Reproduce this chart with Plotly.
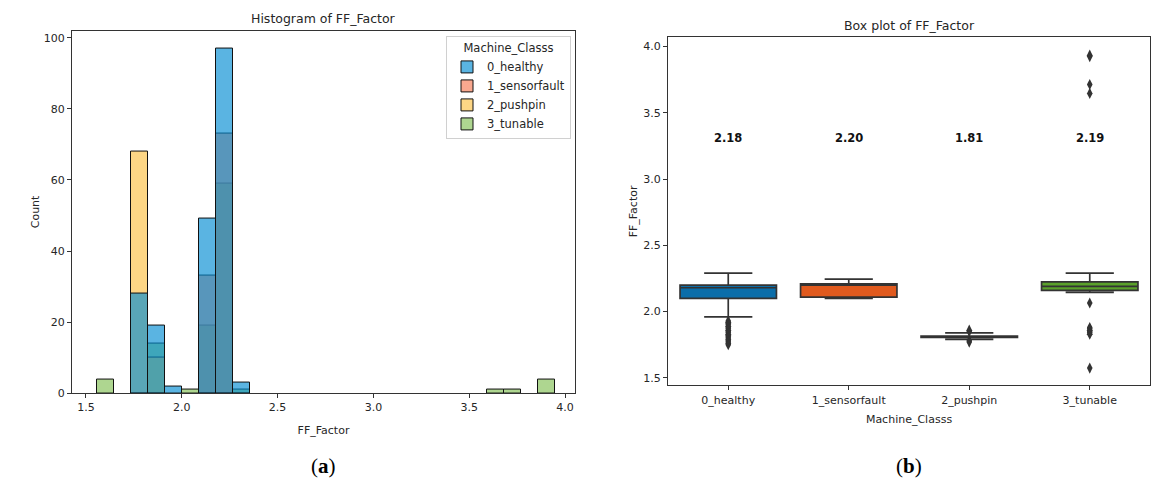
import plotly.graph_objects as go

# ---- data -------------------------------------------------------------
classes = ["0_healthy", "1_sensorfault", "2_pushpin", "3_tunable"]

# histogram of FF_Factor: 27 equal-width bins
bin_start = 1.556
bin_width = 0.0886
counts_healthy     = [0, 0, 28, 19, 2, 0, 49, 97, 3, 0, 0, 0, 0, 0, 0, 0, 0, 0, 0, 0, 0, 0, 0, 0, 0, 0, 0]
counts_sensorfault = [0, 0, 0, 0, 0, 0, 33, 73, 0, 0, 0, 0, 0, 0, 0, 0, 0, 0, 0, 0, 0, 0, 0, 0, 0, 0, 0]
counts_pushpin     = [0, 0, 68, 10, 0, 0, 0, 0, 0, 0, 0, 0, 0, 0, 0, 0, 0, 0, 0, 0, 0, 0, 0, 0, 0, 0, 0]
counts_tunable     = [4, 0, 0, 14, 0, 1, 19, 59, 1, 0, 0, 0, 0, 0, 0, 0, 0, 0, 0, 0, 0, 0, 0, 1, 1, 0, 4]

# box plot statistics per class
box_q1     = [2.10, 2.11, 1.805, 2.16]
box_median = [2.18, 2.20, 1.81, 2.19]
box_q3     = [2.20, 2.21, 1.815, 2.225]
box_lower  = [1.96, 2.10, 1.79, 2.145]
box_upper  = [2.29, 2.245, 1.84, 2.29]

outliers_healthy = [1.93, 1.92, 1.91, 1.90, 1.89, 1.88, 1.87, 1.86, 1.85, 1.84,
                    1.83, 1.82, 1.81, 1.80, 1.79, 1.78, 1.77, 1.76, 1.75]
outliers_sensorfault = []
outliers_pushpin = [1.86, 1.85, 1.78, 1.77]
outliers_tunable = [3.935, 3.925, 3.714, 3.647, 2.065, 1.88, 1.87, 1.86, 1.85,
                    1.84, 1.83, 1.574]

# ---- styling ----------------------------------------------------------
hist_colors = {
    "0_healthy": "rgba(1,140,210,0.65)",
    "1_sensorfault": "rgba(246,121,83,0.65)",
    "2_pushpin": "rgba(252,192,67,0.65)",
    "3_tunable": "rgba(130,192,84,0.65)",
}
box_colors = ["#0b6eaa", "#e05a1e", "#4a4a4a", "#5aa02a"]
text_color = "#262626"
font_family = "DejaVu Sans"

fig = go.Figure()

# layered histogram: the last class is drawn first so healthy sits on top
hist_counts = {
    "0_healthy": counts_healthy,
    "1_sensorfault": counts_sensorfault,
    "2_pushpin": counts_pushpin,
    "3_tunable": counts_tunable,
}
centers = [bin_start + bin_width * (i + 0.5) for i in range(len(counts_healthy))]
for rank, name in reversed(list(enumerate(classes))):
    ys = [c if c > 0 else None for c in hist_counts[name]]
    fig.add_trace(go.Bar(
        x=centers, y=ys, width=bin_width, name=name,
        marker=dict(color=hist_colors[name], line=dict(color="#111111", width=1)),
        legendrank=rank + 1, xaxis="x", yaxis="y",
    ))

# box plot
outliers = [outliers_healthy, outliers_sensorfault, outliers_pushpin, outliers_tunable]
for i, name in enumerate(classes):
    fig.add_trace(go.Box(
        x=[name], q1=[box_q1[i]], median=[box_median[i]], q3=[box_q3[i]],
        lowerfence=[box_lower[i]], upperfence=[box_upper[i]],
        fillcolor=box_colors[i], line=dict(color="#333333", width=1.7),
        width=0.8, whiskerwidth=0.5, boxpoints=False, showlegend=False,
        xaxis="x2", yaxis="y2",
    ))
    if outliers[i]:
        fig.add_trace(go.Scatter(
            x=[name] * len(outliers[i]), y=outliers[i], mode="markers",
            marker=dict(symbol="diamond-tall", size=8, color="#333333"),
            showlegend=False, xaxis="x2", yaxis="y2",
        ))

# median labels above the boxes
annotations = []
for name, m in zip(classes, box_median):
    annotations.append(dict(
        x=name, y=3.31, xref="x2", yref="y2", text=f"<b>{m:.2f}</b>",
        showarrow=False, font=dict(size=11.5, color="#111111", family=font_family),
    ))

# panel titles and captions
annotations += [
    dict(x=(72 + 575) / 2 / 1163, y=1 - 19 / 489, xref="paper", yref="paper",
         xanchor="center", yanchor="middle",
         text="Histogram of FF_Factor", showarrow=False,
         font=dict(size=12.5, color=text_color, family=font_family)),
    dict(x=(668 + 1150) / 2 / 1163, y=1 - 26 / 489, xref="paper", yref="paper",
         xanchor="center", yanchor="middle",
         text="Box plot of FF_Factor", showarrow=False,
         font=dict(size=12.5, color=text_color, family=font_family)),
    dict(x=323 / 1163, y=1 - 473 / 489, xref="paper", yref="paper",
         xanchor="center", yanchor="middle",
         text="(<b>a</b>)", showarrow=False,
         font=dict(size=21, color="#000000", family="Liberation Serif")),
    dict(x=909 / 1163, y=1 - 473 / 489, xref="paper", yref="paper",
         xanchor="center", yanchor="middle",
         text="(<b>b</b>)", showarrow=False,
         font=dict(size=21, color="#000000", family="Liberation Serif")),
]

axis_common = dict(
    showline=True, linecolor="#333333", linewidth=1, mirror=True,
    showgrid=False, zeroline=False, ticks="outside", ticklen=4,
    tickcolor="#333333", tickfont=dict(size=11, color=text_color, family=font_family),
)

fig.update_layout(
    width=1163, height=489,
    margin=dict(l=0, r=0, t=0, b=0),
    paper_bgcolor="white", plot_bgcolor="white",
    barmode="overlay", bargap=0,
    font=dict(family=font_family, color=text_color),
    xaxis=dict(domain=[72 / 1163, 575 / 1163], anchor="y", range=[1.427, 4.052],
               tickvals=[1.5, 2.0, 2.5, 3.0, 3.5, 4.0], tickformat=".1f",
               title=dict(text="FF_Factor", standoff=12,
                          font=dict(size=11, color=text_color)),
               **axis_common),
    yaxis=dict(domain=[1 - 399 / 489, 1 - 31 / 489], anchor="x", range=[0, 102],
               tickvals=[0, 20, 40, 60, 80, 100],
               title=dict(text="Count", standoff=1,
                          font=dict(size=11, color=text_color)),
               **axis_common),
    xaxis2=dict(domain=[668 / 1163, 1150 / 1163], anchor="y2", type="category",
                categoryorder="array", categoryarray=classes, range=[-0.5, 3.5],
                title=dict(text="Machine_Classs", standoff=9,
                           font=dict(size=11, color=text_color)),
                **axis_common),
    yaxis2=dict(domain=[1 - 391 / 489, 1 - 38 / 489], anchor="x2", range=[1.443, 4.069],
                tickvals=[1.5, 2.0, 2.5, 3.0, 3.5, 4.0], tickformat=".1f",
                title=dict(text="FF_Factor", standoff=3,
                           font=dict(size=11, color=text_color)),
                **axis_common),
    legend=dict(
        x=571 / 1163, xanchor="right", y=1 - 37 / 489, yanchor="top",
        bgcolor="white", bordercolor="#d0d0d0", borderwidth=1,
        font=dict(size=11.5, color=text_color, family=font_family),
        title=dict(text="Machine_Classs", side="top center",
                   font=dict(size=11.5, color=text_color)),
        itemwidth=30, tracegroupgap=0,
    ),
    annotations=annotations,
)

fig.write_html("out.html")
